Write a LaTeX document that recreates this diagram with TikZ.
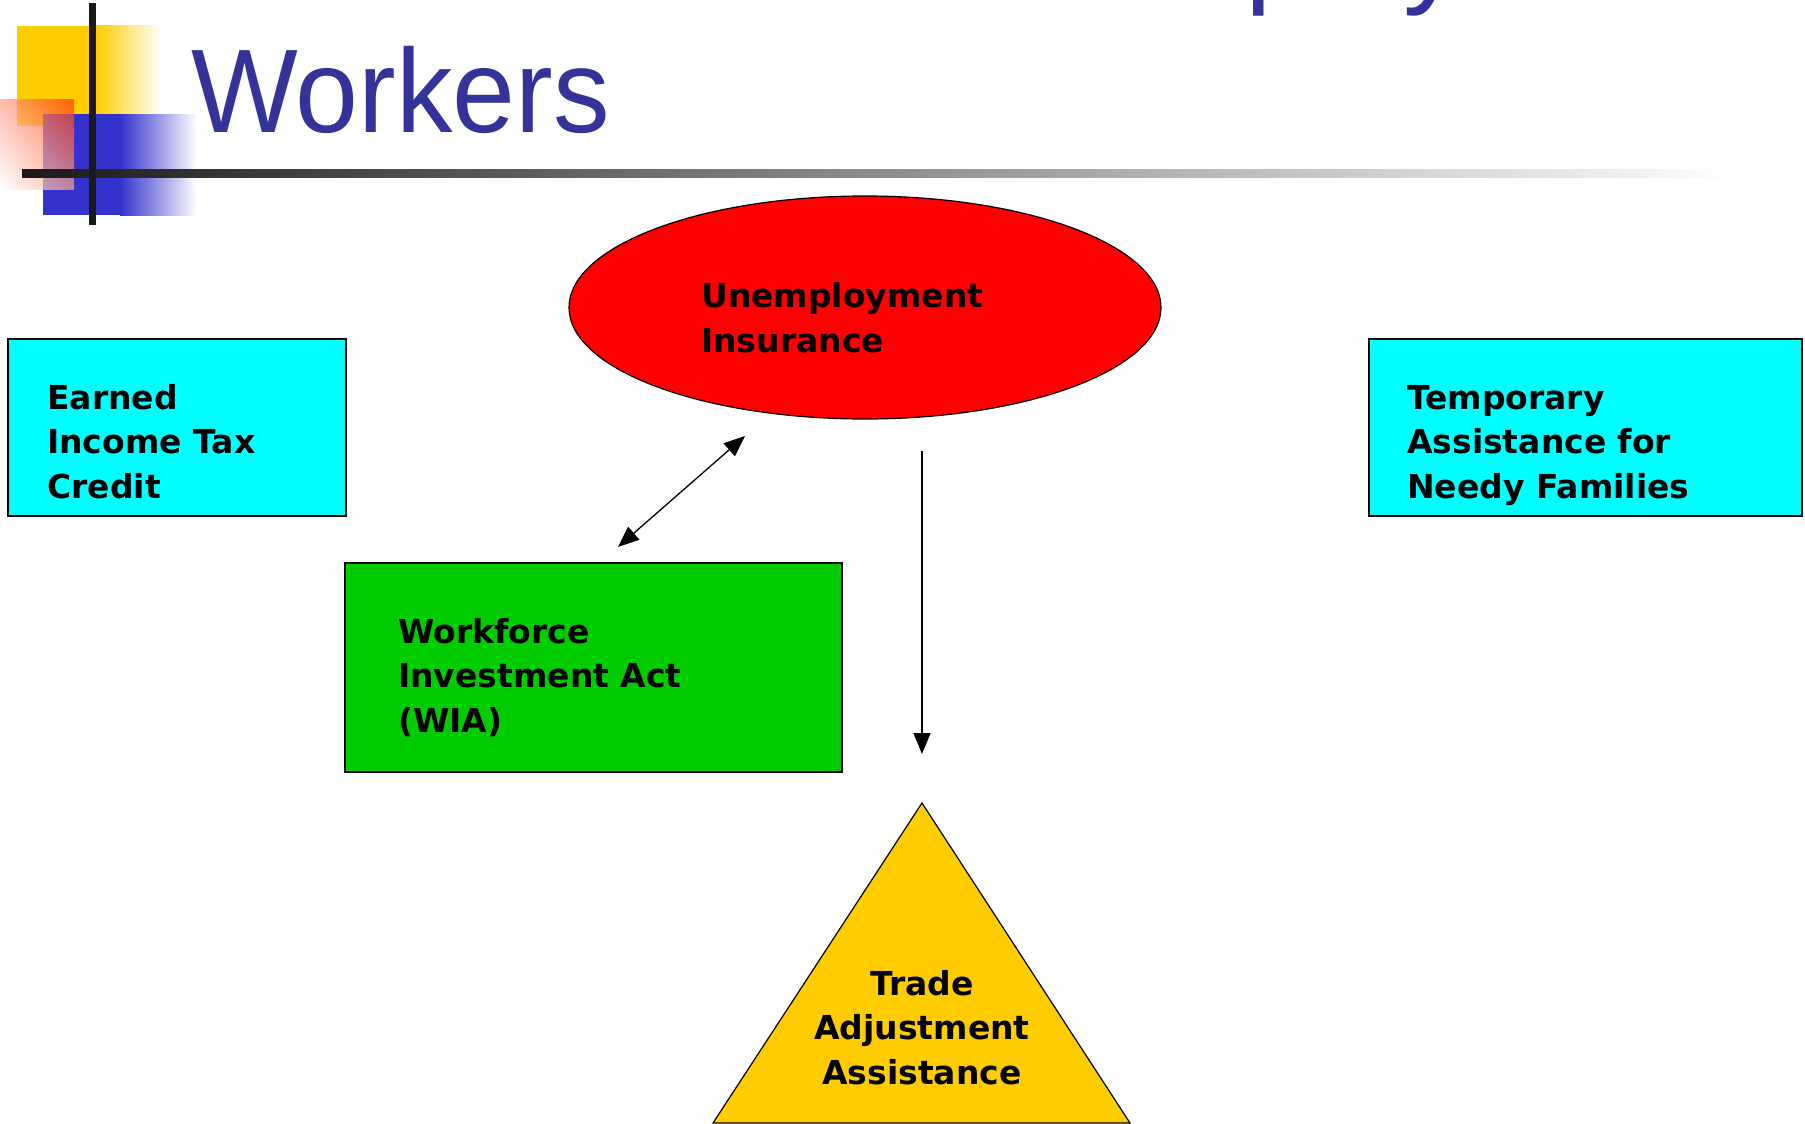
\documentclass[tikz,border=0pt]{standalone}
\usepackage{fontspec}
\setmainfont{DejaVu Sans}
\newfontfamily\titlefont{Liberation Sans}
\usetikzlibrary{arrows.meta,shapes.geometric,shadings}

\definecolor{titleblue}{HTML}{333399}
\definecolor{progcyan}{HTML}{00FFFF}
\definecolor{wiagreen}{HTML}{00CC00}
\definecolor{uired}{HTML}{FF0000}
\definecolor{taayellow}{HTML}{FFCC00}
\definecolor{decoblue}{HTML}{3333CC}
\definecolor{decored}{HTML}{FF3300}
\definecolor{barblack}{HTML}{1A1A1A}

\begin{document}
\begin{tikzpicture}[x=1pt, y=-1pt,
	>={Triangle[length=21pt,width=17pt]},
	prog/.style = {draw=black, line width=1.2pt, inner sep=0pt},
	progtext/.style = {inner sep=0pt, align=left, font=\fontsize{33}{44.5}\selectfont\bfseries},
	titletext/.style = {inner sep=0pt, anchor=base west, text=titleblue, font=\titlefont\fontsize{119}{140}\selectfont},
	link/.style = {line width=1.3pt}]
	\useasboundingbox (0,0) rectangle (1805,1124);
	\clip (0,0) rectangle (1805,1124);
	
	% corner ornament
	\fill[taayellow] (17,26) rectangle (96,126);
	\shade[left color=taayellow, right color=white] (96,26) rectangle (161,126);
	\fill[decoblue] (43,114) rectangle (120,215);
	\shade[left color=decoblue, right color=white] (120,114) rectangle (197,215);
	\shade[fill opacity=0.7, upper right=decored, upper left=decored!45!white,
		lower right=decored!45!white, lower left=white] (0,99) rectangle (74,189);
	\shade[left color=barblack, right color=white] (22,169) rectangle (1736,177);
	\fill[barblack] (89,3) rectangle (96,225);
	
	% title
	\node[titletext] (titletop) at (1245,-8) {ploy};
	\node[titletext, xscale=0.95] (title) at (191,132) {Workers};
	
	% programs
	\node[prog, shape=ellipse, fill=uired, minimum width=592pt, minimum height=223pt] (ui) at (865,307.5) {};
	\node[prog, fill=progcyan, minimum width=338pt, minimum height=177pt] (eitc) at (177,427.5) {};
	\node[prog, fill=progcyan, minimum width=433pt, minimum height=177pt] (tanf) at (1585.5,427.5) {};
	\node[prog, fill=wiagreen, minimum width=497pt, minimum height=209pt] (wia) at (593.5,667.5) {};
	\coordinate (taatop) at (922,803);
	\coordinate (taaleft) at (713,1123);
	\coordinate (taaright) at (1130,1123);
	\filldraw[prog, fill=taayellow] (taatop) -- (taaleft) -- (taaright) -- cycle;
	
	% labels, placed by the baseline of their last line
	\node[progtext, anchor=base west] (uilabel) at (701,352) {Unemployment\\Insurance};
	\node[progtext, anchor=base west] (eitclabel) at (47,498) {Earned\\Income Tax\\Credit};
	\node[progtext, anchor=base west] (tanflabel) at (1407,498) {Temporary\\Assistance for\\Needy Families};
	\node[progtext, anchor=base west] (wialabel) at (398,732) {Workforce\\Investment Act\\(WIA)};
	\node[progtext, align=center, anchor=base] (taalabel) at (922,1084) {Trade\\Adjustment\\Assistance};
	
	% links
	\coordinate (uiend) at (745,436);
	\coordinate (wiaend) at (618,547);
	\coordinate (uifoot) at (922,451);
	\coordinate (taatip) at (922,754);
	\draw[link, <->] (wiaend) -- (uiend);
	\draw[link, ->] (uifoot) -- (taatip);
\end{tikzpicture}
\end{document}
